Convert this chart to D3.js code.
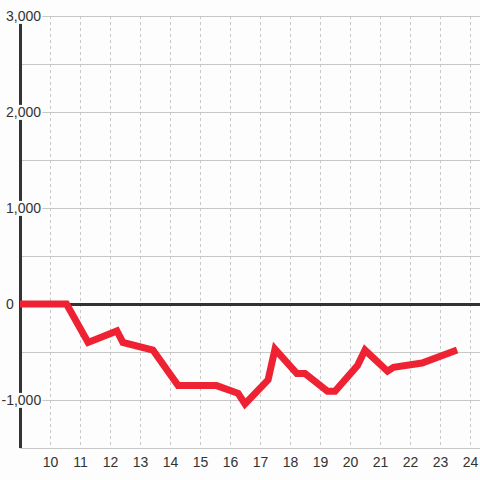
<!DOCTYPE html>
<html>
<head>
<meta charset="utf-8">
<script src="https://cdn.jsdelivr.net/npm/d3@7"></script>
<style>
  body { margin: 0; background: #fcfdfc; }
  svg { display: block; font-family: 'Liberation Sans', Arial, sans-serif; }
</style>
</head>
<body>
<div id="chart"></div>
<script>
// data: hour of day and value
var hours = [9, 10.55, 11.27, 12.23, 12.43, 13.43, 14.27, 15.55, 16.27, 16.5, 17.27, 17.5, 18.23, 18.5, 19.25, 19.5, 20.25, 20.5, 21.25, 21.45, 22.4, 23.57];
var values = [0, 0, -400, -280, -400, -480, -850, -850, -930, -1040, -790, -470, -725, -725, -910, -910, -640, -480, -700, -660, -615, -479];
var yTicks = [-1500, -1000, -500, 0, 500, 1000, 1500, 2000, 2500, 3000];
var yLabelTicks = [-1000, 0, 1000, 2000, 3000];
var xTicks = [10, 11, 12, 13, 14, 15, 16, 17, 18, 19, 20, 21, 22, 23, 24];

var width = 480,
  height = 480;

var svg = d3
  .select('#chart')
  .append('svg')
  .attr('width', width)
  .attr('height', height);

svg.append('rect')
  .attr('width', width)
  .attr('height', height)
  .attr('fill', '#fcfdfc');

var x = d3
  .scaleLinear()
  .domain([9, 24 + 1 / 3])
  .range([20, 480]);

var y = d3
  .scaleLinear()
  .domain([-1500, 3000])
  .range([448, 16]);

// horizontal grid
svg.append('g')
  .selectAll('line')
  .data(yTicks)
  .enter()
  .append('line')
  .attr('x1', x(9))
  .attr('x2', width)
  .attr('y1', function(d) { return y(d) + 0.5; })
  .attr('y2', function(d) { return y(d) + 0.5; })
  .attr('stroke', '#c8c8c8')
  .attr('stroke-width', 1);

// vertical dotted grid
svg.append('g')
  .selectAll('line')
  .data(xTicks)
  .enter()
  .append('line')
  .attr('x1', function(d) { return x(d) + 0.5; })
  .attr('x2', function(d) { return x(d) + 0.5; })
  .attr('y1', y(3000))
  .attr('y2', y(-1500))
  .attr('stroke', '#c8c8c8')
  .attr('stroke-width', 1)
  .attr('stroke-dasharray', '3,3');

// y axis line
svg.append('line')
  .attr('x1', x(9) + 0.5)
  .attr('x2', x(9) + 0.5)
  .attr('y1', y(3000))
  .attr('y2', y(-1500))
  .attr('stroke', '#333')
  .attr('stroke-width', 3);

// zero line
svg.append('line')
  .attr('x1', x(9))
  .attr('x2', width)
  .attr('y1', y(0) + 0.5)
  .attr('y2', y(0) + 0.5)
  .attr('stroke', '#333')
  .attr('stroke-width', 3);

// y labels with a box behind them that hides the axis
var fmt = d3.format(',');
var yLabels = svg.append('g')
  .selectAll('g')
  .data(yLabelTicks)
  .enter()
  .append('g');

yLabels.append('rect')
  .attr('class', 'bg')
  .attr('fill', '#fcfdfc');

yLabels.append('text')
  .attr('x', function(d) { return d < 0 ? 1.5 : 6; })
  .attr('y', function(d) { return y(d) + 0.5; })
  .attr('dy', '0.35em')
  .attr('font-size', 14)
  .attr('fill', '#333')
  .text(function(d) { return fmt(d).replace('−', '-'); });

yLabels.each(function() {
  var g = d3.select(this);
  var b = g.select('text').node().getBBox();
  g.select('rect')
    .attr('x', b.x - 1)
    .attr('y', b.y + b.height / 2 - 7.5)
    .attr('width', b.width + 2)
    .attr('height', 15);
});

// x labels
svg.append('g')
  .selectAll('text')
  .data(xTicks)
  .enter()
  .append('text')
  .attr('x', function(d) { return x(d) + 0.5; })
  .attr('y', 467)
  .attr('text-anchor', 'middle')
  .attr('font-size', 14)
  .attr('fill', '#333')
  .text(function(d) { return d; });

// the red line
var line = d3
  .line()
  .x(function(d, i) { return x(hours[i]); })
  .y(function(d) { return y(d); });

svg.append('path')
  .datum(values)
  .attr('d', line)
  .attr('fill', 'none')
  .attr('stroke', '#ee2233')
  .attr('stroke-width', 7)
  .attr('stroke-linejoin', 'miter');
</script>
</body>
</html>
